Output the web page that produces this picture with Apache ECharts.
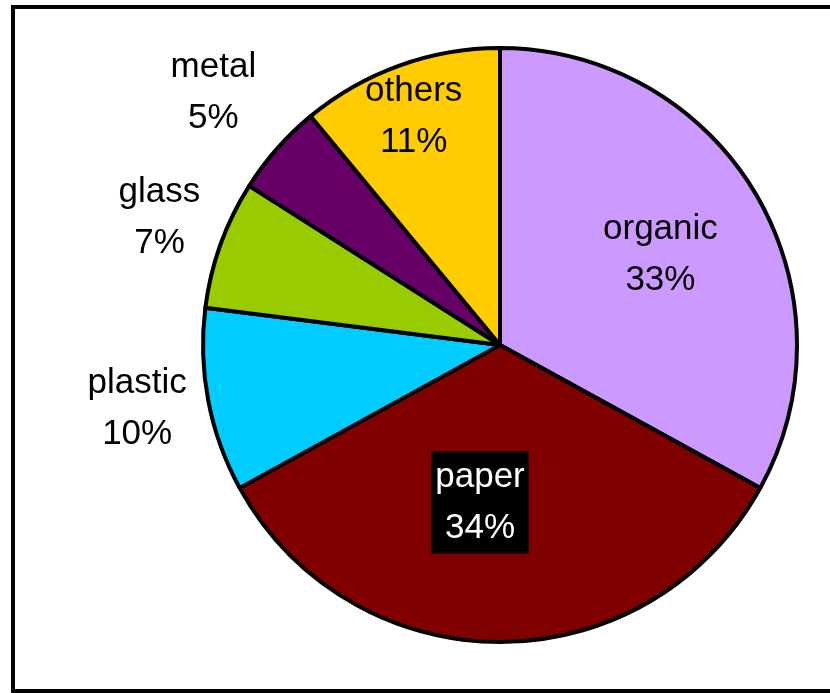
<!DOCTYPE html>
<html>
<head>
<meta charset="utf-8">
<script src="https://cdn.jsdelivr.net/npm/echarts@6/dist/echarts.min.js"></script>
<style>
  html, body { margin: 0; padding: 0; background: #ffffff; }
  #chart { width: 830px; height: 693px; }
</style>
</head>
<body>
<div id="chart"></div>
<script>
// Waste composition by material
const categories = ['organic', 'paper', 'plastic', 'glass', 'metal', 'others'];
const shares = [33, 34, 10, 7, 5, 11];

// Slice fills, in category order
const sliceColors = ['#CC99FF', '#800000', '#00CCFF', '#99CC00', '#660066', '#FFCC00'];

// Label nudges (px) away from the library's inside anchor, in category order
const labelNudge = [[30, -13], [-20, 6], [-214, 35], [-198, -76], [-173, -152], [-35, -86]];

const chart = echarts.init(document.getElementById('chart'), null, { renderer: 'canvas' });

const pieData = categories.map((name, i) => {
  const item = { name: name, value: shares[i], itemStyle: { color: sliceColors[i] } };
  if (name === 'paper') {
    item.label = { color: '#ffffff', backgroundColor: '#000000', padding: [0, 4] };
  }
  return item;
});

chart.setOption({
  animation: false,
  backgroundColor: '#ffffff',
  graphic: [{
    type: 'rect',
    shape: { x: 13, y: 7, width: 830, height: 684 },
    style: { fill: 'none', stroke: '#000000', lineWidth: 4 },
    silent: true
  }],
  series: [{
    type: 'pie',
    center: [500, 345],
    radius: 297,
    startAngle: 90,
    clockwise: true,
    avoidLabelOverlap: false,
    emphasis: { disabled: true },
    itemStyle: { borderColor: '#000000', borderWidth: 4 },
    label: {
      show: true,
      position: 'inside',
      formatter: '{b}\n{c}%',
      fontFamily: '"Liberation Sans", Arial, sans-serif',
      fontSize: 35,
      lineHeight: 51,
      color: '#000000'
    },
    labelLine: { show: false },
    labelLayout: function (params) {
      const n = labelNudge[params.dataIndex];
      return { dx: n[0], dy: n[1] };
    },
    data: pieData
  }]
});
</script>
</body>
</html>
